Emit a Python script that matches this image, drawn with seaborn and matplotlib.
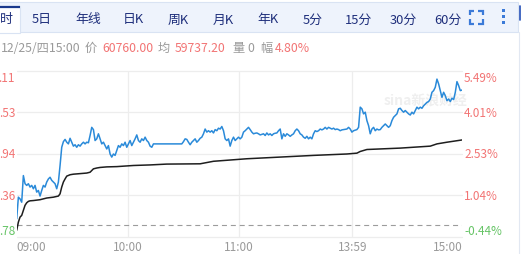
import matplotlib
matplotlib.use('Agg')
import matplotlib.pyplot as plt
import matplotlib.patches as mpatches
import seaborn as sns
import pandas as pd

# ---------------- data ----------------
# intraday price, % change vs previous close, sampled at a uniform step
price_pct = [
    0.21, 0.98, 0.92, 0.80, 1.75, 1.46, 1.40, 1.46, 1.34, 1.40,
    1.28, 1.40, 1.16, 1.22, 1.02, 1.22, 1.40, 1.34, 1.52, 1.63,
    1.69, 1.58, 1.52, 1.46, 1.28, 1.52, 2.11, 2.76, 2.96, 3.04,
    2.94, 2.88, 3.08, 2.94, 2.80, 2.85, 2.76, 2.85, 2.80, 2.88,
    2.94, 2.88, 2.94, 2.92, 3.18, 3.47, 3.39, 3.00, 3.06, 3.24,
    3.06, 2.88, 2.94, 2.82, 2.70, 2.82, 2.52, 2.41, 2.52, 2.47,
    2.64, 2.82, 2.76, 2.88, 2.82, 2.94, 2.76, 2.88, 3.00, 2.82,
    2.94, 3.06, 3.20, 3.00, 2.94, 3.06, 3.00, 3.12, 3.00, 2.94,
    2.80, 2.76, 2.88, 2.88, 2.88, 2.88, 2.88, 2.88, 2.88, 2.88,
    2.88, 2.88, 2.88, 2.88, 2.88, 2.88, 2.88, 2.88, 2.88, 2.88,
    2.96, 3.06, 3.04, 2.94, 2.85, 2.94, 3.00, 3.06, 2.94, 3.00,
    3.08, 3.12, 3.24, 3.41, 3.30, 3.35, 3.30, 3.35, 3.27, 3.39,
    3.35, 3.44, 3.41, 3.50, 3.35, 3.06, 3.00, 3.06, 2.80, 3.00,
    3.12, 3.00, 3.06, 3.12, 3.06, 3.12, 3.30, 3.35, 3.41, 3.47,
    3.39, 3.30, 3.24, 3.26, 3.27, 3.24, 3.20, 3.22, 3.24, 3.18,
    3.27, 3.20, 3.24, 3.18, 3.24, 3.26, 3.27, 3.35, 3.41, 3.06,
    3.24, 3.15, 3.24, 3.20, 3.15, 3.20, 3.24, 3.35, 3.41, 3.35,
    3.24, 3.20, 3.12, 3.08, 3.15, 3.06, 3.12, 3.06, 3.24, 3.35,
    3.32, 3.35, 3.41, 3.38, 3.41, 3.47, 3.41, 3.47, 3.44, 3.41,
    3.44, 3.39, 3.41, 3.39, 3.35, 3.38, 3.39, 3.40, 3.41, 3.47,
    3.41, 3.30, 3.35, 3.37, 3.39, 3.47, 4.19, 4.13, 3.95, 4.01,
    3.71, 3.53, 3.24, 3.41, 3.47, 3.35, 3.41, 3.38, 3.39, 3.47,
    3.53, 3.59, 3.53, 3.47, 3.53, 3.71, 3.83, 3.89, 3.95, 4.13,
    4.15, 4.07, 4.01, 4.07, 4.01, 3.95, 3.91, 4.01, 3.95, 4.07,
    4.19, 4.13, 4.19, 4.15, 4.24, 4.30, 4.36, 4.39, 4.48, 4.72,
    4.78, 4.90, 5.19, 5.02, 4.78, 4.54, 4.72, 4.60, 4.42, 4.48,
    4.39, 4.51, 4.46, 4.72, 5.10, 4.96, 4.78, 4.80,
]
# average price line (% change), at sample index
avg_pos = [0, 1, 2, 3, 4, 5, 6, 7, 8, 10, 14, 18, 22, 25, 26, 27, 28, 29, 30,
           32, 34, 38, 42, 44, 45, 46, 48, 50, 54, 60, 70, 80, 90, 110, 118,
           138, 158, 178, 198, 204, 206, 210, 218, 230, 248, 252, 258, 267]
avg_pct = [-0.20, 0.09, 0.27, 0.33, 0.51, 0.69, 0.78, 0.83, 0.85, 0.86, 0.89,
           0.95, 0.98, 1.02, 1.10, 1.34, 1.52, 1.63, 1.73, 1.78, 1.80, 1.82,
           1.84, 1.87, 1.93, 1.99, 2.02, 2.04, 2.06, 2.07, 2.11, 2.13, 2.16,
           2.17, 2.26, 2.35, 2.41, 2.47, 2.52, 2.55, 2.61, 2.68, 2.70, 2.73,
           2.80, 2.88, 2.94, 3.02]

grid_pct = [5.49, 4.01, 2.53, 1.04, -0.44]
grid_pct_labels = ['5.49%', '4.01%', '2.53%', '1.04%', '-0.44%']
# left price labels: only their tails are visible in the cropped view
grid_price_labels = ['.11', '.53', '.94', '.36', '.78']
time_labels = ['09:00', '10:00', '11:00', '13:59', '15:00']
time_pos = [0, 66.8, 133.4, 201.2, 267.2]

tabs = ['时', '5日', '年线', '日K', '周K', '月K', '年K', '5分', '15分', '30分', '60分']
info_texts = ['12/25/四15:00', '价', '60760.00', '均', '59737.20', '量', '0', '幅', '4.80%']
info_kinds = ['g', 'g', 'r', 'g', 'r', 'g', 'g', 'g', 'r']

# ---------------- style ----------------
sns.set_theme(style='white')
plt.rcParams['font.family'] = ['Noto Sans CJK SC', 'DejaVu Sans']

RED = '#f27474'
GREEN = '#66c466'
GRAY = '#9a9a9a'
NAVY = '#1f2f7c'
BLUE_LINE = '#2a8ad9'
ICON = '#3b7ad8'
GRID = '#ededed'

W, H = 521, 255
fig = plt.figure(figsize=(W / 100, H / 100), dpi=100)
fig.patch.set_facecolor('white')

# overlay in pixel coordinates for the header widgets
ov = fig.add_axes([0, 0, 1, 1], zorder=0)
ov.set_xlim(0, W)
ov.set_ylim(H, 0)
ov.axis('off')

# tab bar
ov.add_patch(mpatches.Rectangle((-2, 3), 520, 30, facecolor='#eef3fc',
                                edgecolor='#d9e3f3', lw=0.8))
ov.add_patch(mpatches.Rectangle((-2, 7), 22, 27, facecolor='white',
                                edgecolor='#d9e3f3', lw=0.8))
ov.plot([-1, 20], [7.5, 7.5], color='#1b3a8c', lw=1.6, solid_capstyle='butt')

tab_x = [0.3, 42, 88, 133, 178, 223, 268, 313, 358, 403, 448]
for k, (t, x) in enumerate(zip(tabs, tab_x)):
    ov.text(x, 20, t, ha='left' if k == 0 else 'center', va='center',
            fontsize=9.3, color=NAVY)

# fullscreen icon
x0, x1, y0, y1, a = 469.5, 482.5, 11.5, 24.5, 4.5
for (cx, cy, dx, dy) in [(x0, y0, 1, 1), (x1, y0, -1, 1), (x0, y1, 1, -1), (x1, y1, -1, -1)]:
    ov.plot([cx + dx * a, cx, cx], [cy, cy, cy + dy * a], color=ICON, lw=1.6,
            solid_joinstyle='miter', solid_capstyle='butt')
for yy in [11.5, 17.5, 23.5]:
    ov.add_patch(mpatches.Rectangle((502, yy - 1.5), 3.2, 3.2, facecolor=ICON, lw=0))
ov.plot([518.5, 518.5], [33, 255], color='#e2e8f2', lw=0.8)
ov.plot([520, 520], [7, 21], color='#2550b8', lw=1.2)

# info line
info_x = [0.8, 85, 102, 158, 175, 232, 247, 260, 275]
for t, kind, x in zip(info_texts, info_kinds, info_x):
    ov.text(x, 48.5, t, ha='left', va='center', fontsize=8.8,
            color=RED if kind == 'r' else GRAY)

# watermark
ov.text(384, 101, 'sina新浪财经', ha='left', va='center', fontsize=10,
        color='#efefef', style='italic', weight='bold')

# ---------------- main chart ----------------
ax = fig.add_axes([16.7 / W, 17 / H, 445.6 / W, 166.3 / H], zorder=1)
ax.set_facecolor('none')

df = pd.DataFrame({'idx': range(len(price_pct)), 'pct': price_pct})
dfa = pd.DataFrame({'idx': avg_pos, 'pct': avg_pct})
sns.lineplot(data=df, x='idx', y='pct', ax=ax, color=BLUE_LINE, lw=1.1, zorder=3)
sns.lineplot(data=dfa, x='idx', y='pct', ax=ax, color='#1e1e1e', lw=1.1, zorder=3)

ax.set_xlim(0, time_pos[-1])
ax.set_ylim(grid_pct[-1], grid_pct[0])
for p in grid_pct:
    ax.axhline(p, color=GRID, lw=0.9, zorder=0, clip_on=False)
for t in time_pos[1:-1]:
    ax.axvline(t, color=GRID, lw=0.9, zorder=0)
ax.axhline(0, color='#9c9c9c', lw=0.8, ls=(0, (4.5, 3.5)), zorder=1)

ax.set_xticks([])
ax.set_yticks([])
ax.set_xlabel('')
ax.set_ylabel('')
for s in ax.spines.values():
    s.set_visible(False)

n = len(grid_pct)
for k, (p, lp, rp) in enumerate(zip(grid_pct, grid_price_labels, grid_pct_labels)):
    va = 'top' if k == 0 else ('bottom' if k == n - 1 else 'center')
    dy = -0.3 if k == 0 else (0.3 if k == n - 1 else 0)
    col = RED if p > 0 else GREEN
    ax.annotate(lp, xy=(0, p), xycoords=('axes fraction', 'data'),
                xytext=(-1.2, dy), textcoords='offset points', ha='right', va=va,
                fontsize=8.5, color=col, annotation_clip=False)
    ax.annotate(rp, xy=(1, p), xycoords=('axes fraction', 'data'),
                xytext=(1.3, dy), textcoords='offset points', ha='left', va=va,
                fontsize=8.5, color=col, annotation_clip=False)

for k, (lab, pos) in enumerate(zip(time_labels, time_pos)):
    ha = 'left' if k == 0 else ('right' if k == len(time_labels) - 1 else 'center')
    ax.annotate(lab, xy=(pos, 0), xycoords=('data', 'axes fraction'),
                xytext=(0, -2.3), textcoords='offset points', ha=ha, va='top',
                fontsize=8.5, color=GRAY, annotation_clip=False)

fig.savefig('out.png', dpi=100)
